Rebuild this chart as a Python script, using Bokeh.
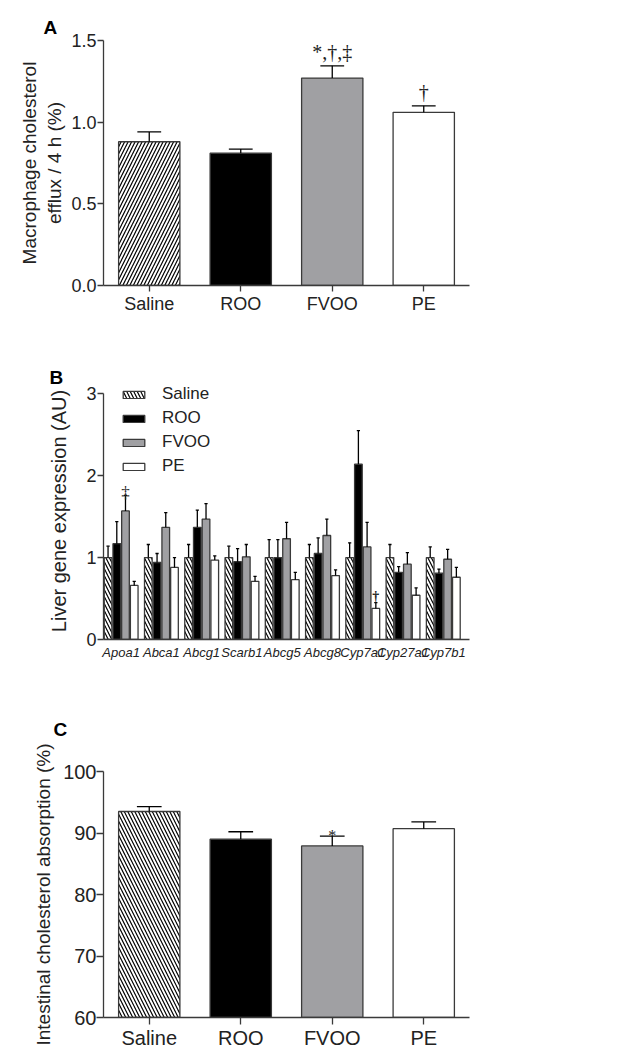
from bokeh.plotting import figure
from bokeh.layouts import column
from bokeh.models import Range1d, FixedTicker, PrintfTickFormatter, Legend, LegendItem
from bokeh.embed import file_html
from bokeh.resources import INLINE

# ---------------- data ----------------
groups = ["Saline", "ROO", "FVOO", "PE"]

# Panel A: macrophage cholesterol efflux / 4 h (%)
efflux_mean = [0.88, 0.81, 1.27, 1.06]
efflux_sem = [0.06, 0.025, 0.075, 0.04]
efflux_sig = ["", "", "*,†,‡", "†"]

# Panel B: liver gene expression (AU)
genes = ["Apoa1", "Abca1", "Abcg1", "Scarb1", "Abcg5", "Abcg8", "Cyp7a1", "Cyp27a1", "Cyp7b1"]
liver_saline = [1.00, 1.00, 1.00, 1.00, 1.00, 1.00, 1.00, 1.00, 1.00]
liver_saline_sem = [0.14, 0.16, 0.16, 0.14, 0.22, 0.16, 0.18, 0.16, 0.13]
liver_roo = [1.17, 0.94, 1.37, 0.95, 1.00, 1.05, 2.14, 0.82, 0.81]
liver_roo_sem = [0.27, 0.11, 0.21, 0.16, 0.22, 0.19, 0.41, 0.07, 0.05]
liver_fvoo = [1.57, 1.37, 1.47, 1.01, 1.23, 1.27, 1.13, 0.92, 0.98]
liver_fvoo_sem = [0.19, 0.18, 0.19, 0.15, 0.20, 0.20, 0.30, 0.14, 0.12]
liver_pe = [0.66, 0.88, 0.97, 0.71, 0.73, 0.78, 0.38, 0.54, 0.76]
liver_pe_sem = [0.05, 0.12, 0.05, 0.06, 0.09, 0.07, 0.07, 0.09, 0.12]
liver_sig_fvoo = ["‡", "", "", "", "", "", "", "", ""]
liver_sig_pe = ["", "", "", "", "", "", "†", "", ""]

# Panel C: intestinal cholesterol absorption (%)
absorb_mean = [93.5, 89.0, 87.9, 90.7]
absorb_sem = [0.8, 1.2, 1.6, 1.1]
absorb_sig = ["", "", "*", ""]

# ---------------- styles ----------------
FONT = "Liberation Sans"
TXT = "#222222"
AX = "#3a3a3a"
fills = ["white", "black", "#a0a0a3", "white"]


def base_style(p, letter, offset, standoff):
    p.xgrid.visible = False
    p.ygrid.visible = False
    p.outline_line_color = None
    p.background_fill_color = "white"
    p.border_fill_color = "white"
    for ax in (p.xaxis[0], p.yaxis[0]):
        ax.axis_line_color = AX
        ax.axis_line_width = 1.3
        ax.major_tick_line_color = AX
        ax.major_tick_line_width = 1.3
        ax.minor_tick_line_color = None
        ax.major_tick_in = 0
        ax.major_label_text_font = FONT
        ax.axis_label_text_font = FONT
        ax.axis_label_text_font_style = "normal"
        ax.major_label_text_color = TXT
        ax.axis_label_text_color = TXT
    p.title.text = letter
    p.title.align = "left"
    p.title.offset = offset
    p.title.standoff = standoff
    p.title.text_font = FONT
    p.title.text_font_size = "19px"
    p.title.text_font_style = "bold"
    p.title.text_color = "black"


def bar_kwargs(i, hatch):
    kw = dict(fill_color=fills[i], line_color=AX, line_width=1.3)
    if i == 0:
        kw.update(hatch_pattern=hatch, hatch_color="black", hatch_scale=7, hatch_weight=1.2)
    return kw


def err_bars(p, xs, tops, sems, cap):
    ups = [t + s for t, s in zip(tops, sems)]
    p.segment(x0=xs, y0=tops, x1=xs, y1=ups, line_color="black", line_width=1.3)
    p.segment(x0=[x - cap / 2 for x in xs], y0=ups, x1=[x + cap / 2 for x in xs], y1=ups,
              line_color="black", line_width=1.3)
    return ups


# ---------------- Panel A ----------------
pa = figure(width=633, height=330, x_range=Range1d(-0.5, 3.5), y_range=Range1d(0, 1.5),
            output_backend="svg", toolbar_location=None,
            min_border_left=101, min_border_right=164, min_border_top=40, min_border_bottom=45)
base_style(pa, "A", -60, 6)
for i, g in enumerate(groups):
    pa.vbar(x=[i], top=[efflux_mean[i]], bottom=0, width=0.67,
            **bar_kwargs(i, "right_diagonal_line"))
ups_a = err_bars(pa, list(range(4)), efflux_mean, efflux_sem, 0.26)
pxa = 245 / 1.5
pa.text(x=list(range(4)), y=[u + 14 / pxa for u in ups_a], text=efflux_sig,
        text_align="center", text_baseline="alphabetic", text_font_size="20px",
        text_font=FONT, text_color=TXT)
pa.xaxis.ticker = FixedTicker(ticks=list(range(4)))
pa.xaxis.major_label_overrides = {i: g for i, g in enumerate(groups)}
pa.xaxis.major_label_text_font_size = "18px"
pa.xaxis.major_tick_out = 6
pa.xaxis.major_label_standoff = 2
pa.yaxis.ticker = FixedTicker(ticks=[0, 0.5, 1.0, 1.5])
pa.yaxis.formatter = PrintfTickFormatter(format="%.1f")
pa.yaxis.major_label_text_font_size = "18px"
pa.yaxis.major_tick_out = 6
pa.yaxis.major_label_standoff = 1
pa.yaxis.axis_label = "Macrophage cholesterol\nefflux / 4 h (%)"
pa.yaxis.axis_label_text_font_size = "19px"
pa.yaxis.axis_label_standoff = 3

# ---------------- Panel B ----------------
pb = figure(width=633, height=350, x_range=Range1d(-0.438, 8.651), y_range=Range1d(0, 3.138),
            output_backend="svg", toolbar_location=None,
            min_border_left=103, min_border_right=1, min_border_top=52, min_border_bottom=41)
base_style(pb, "B", -54, -10)
pb.yaxis.bounds = (0, 3)
offsets = [-0.325, -0.108, 0.108, 0.325]
series = [(liver_saline, liver_saline_sem), (liver_roo, liver_roo_sem),
          (liver_fvoo, liver_fvoo_sem), (liver_pe, liver_pe_sem)]
renderers = []
ups_b = []
for j, (vals, sems) in enumerate(series):
    xs = [k + offsets[j] for k in range(len(genes))]
    r = pb.vbar(x=xs, top=vals, bottom=0, width=0.19, **bar_kwargs(j, "left_diagonal_line"))
    renderers.append(r)
    ups_b.append(err_bars(pb, xs, vals, sems, 0.08))
pxb = 81.9
pb.text(x=[k + offsets[2] for k in range(len(genes))], y=[u + 3 / pxb for u in ups_b[2]],
        text=liver_sig_fvoo, text_align="center", text_baseline="alphabetic",
        text_font_size="17px", text_font=FONT, text_color=TXT)
pb.text(x=[k + offsets[3] for k in range(len(genes))], y=[u + 6 / pxb for u in ups_b[3]],
        text=liver_sig_pe, text_align="center", text_baseline="alphabetic",
        text_font_size="14px", text_font=FONT, text_font_style="bold", text_color=TXT)
pb.xaxis.ticker = FixedTicker(ticks=list(range(len(genes))))
pb.xaxis.major_label_overrides = {i: g for i, g in enumerate(genes)}
pb.xaxis.major_label_text_font_size = "13px"
pb.xaxis.major_label_text_font_style = "italic"
pb.xaxis.major_tick_out = 0
pb.xaxis.major_label_standoff = 5
pb.yaxis.ticker = FixedTicker(ticks=[0, 1, 2, 3])
pb.yaxis.major_label_text_font_size = "18px"
pb.yaxis.major_tick_out = 6
pb.yaxis.major_label_standoff = 1
pb.yaxis.axis_label = "Liver gene expression (AU)"
pb.yaxis.axis_label_text_font_size = "20px"
pb.yaxis.axis_label_standoff = 13
legend = Legend(items=[LegendItem(label=g, renderers=[renderers[j]]) for j, g in enumerate(groups)],
                location=(17, 163), orientation="vertical",
                glyph_width=27, glyph_height=9, label_height=20, spacing=4,
                label_standoff=15, padding=0, margin=0,
                label_text_font=FONT, label_text_font_size="17px", label_text_color=TXT,
                border_line_color=None, background_fill_alpha=0)
pb.add_layout(legend)

# ---------------- Panel C ----------------
pc = figure(width=633, height=378, x_range=Range1d(-0.5, 3.5), y_range=Range1d(60, 100),
            output_backend="svg", toolbar_location=None,
            min_border_left=103, min_border_right=161, min_border_top=91, min_border_bottom=41)
base_style(pc, "C", -50, 64)
for i, g in enumerate(groups):
    pc.vbar(x=[i], top=[absorb_mean[i]], bottom=60, width=0.67,
            **bar_kwargs(i, "left_diagonal_line"))
ups_c = err_bars(pc, list(range(4)), absorb_mean, absorb_sem, 0.27)
pxc = 246 / 40
pc.text(x=list(range(4)), y=[u + 1 / pxc for u in ups_c], text=absorb_sig,
        text_align="center", text_baseline="alphabetic", text_font_size="16px",
        text_font=FONT, text_color=TXT)
pc.xaxis.ticker = FixedTicker(ticks=list(range(4)))
pc.xaxis.major_label_overrides = {i: g for i, g in enumerate(groups)}
pc.xaxis.major_label_text_font_size = "20px"
pc.xaxis.major_tick_out = 7
pc.xaxis.major_label_standoff = 2
pc.yaxis.ticker = FixedTicker(ticks=[60, 70, 80, 90, 100])
pc.yaxis.major_label_text_font_size = "20px"
pc.yaxis.major_tick_out = 7
pc.yaxis.major_label_standoff = 0
pc.yaxis.axis_label = "Intestinal cholesterol absorption (%)"
pc.yaxis.axis_label_text_font_size = "19px"
pc.yaxis.axis_label_standoff = 6

layout = column(pa, pb, pc, spacing=0)
open("out.html", "w").write(file_html(layout, INLINE))
